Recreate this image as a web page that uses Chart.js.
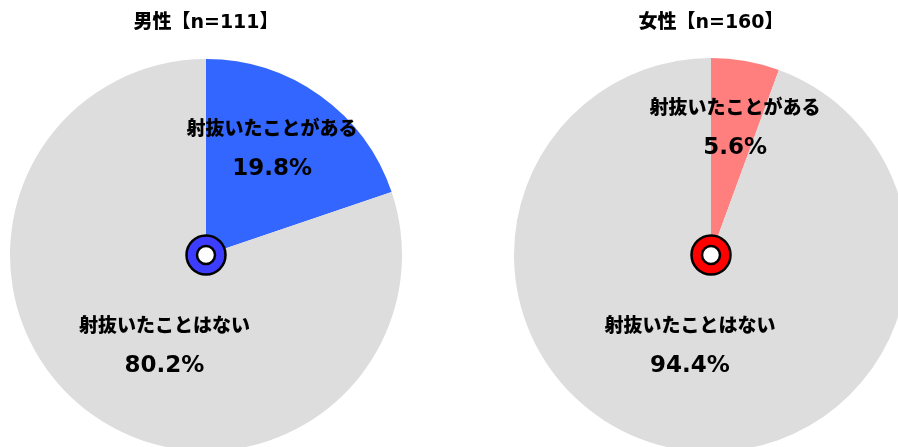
<!DOCTYPE html>
<html>
<head>
<meta charset="utf-8">
<script src="https://cdn.jsdelivr.net/npm/chart.js@4"></script>
<style>
    html, body { margin: 0; padding: 0; background: #fff; overflow: hidden; width: 898px; height: 447px; }
    canvas { position: absolute; }
    #maleChart { left: 10px; top: 0; }
    #femaleChart { left: 514px; top: 0; }
</style>
</head>
<body>
<canvas id="maleChart" width="392" height="451"></canvas>
<canvas id="femaleChart" width="394" height="452"></canvas>
<script>
const categories = ['射抜いたことがある', '射抜いたことはない'];
const maleValues = [19.8, 80.2];
const femaleValues = [5.6, 94.4];
const groupNames = ['男性', '女性'];
const groupN = [111, 160];

const FONT = "'DejaVu Sans', 'Noto Sans CJK JP', sans-serif";

// 中心のリングとラベルを描く
const pieDecor = {
    id: 'pieDecor',
    afterDatasetsDraw(chart, args, opts) {
        const ctx = chart.ctx;
        const meta = chart.getDatasetMeta(0);
        const arc0 = meta.data[0];
        const cx = arc0.x, cy = arc0.y, r = arc0.outerRadius;
        const values = chart.data.datasets[0].data;

        ctx.save();
        ctx.textAlign = 'center';
        ctx.textBaseline = 'middle';
        ctx.fillStyle = '#000';
        meta.data.forEach((arc, i) => {
            const off = opts.offsets[i];
            const x = cx + off[0] * r;
            const y = cy + off[1] * r;
            ctx.font = "900 19px " + FONT;
            ctx.fillText(chart.data.labels[i], x, y - 20);
            ctx.font = "bold 23px " + FONT;
            ctx.fillText(values[i].toFixed(1) + '%', x, y + 19);
        });

        // ring
        ctx.beginPath();
        ctx.arc(cx, cy, 19.5, 0, Math.PI * 2);
        ctx.arc(cx, cy, 9, 0, Math.PI * 2, true);
        ctx.fillStyle = opts.ringColor;
        ctx.fill();
        ctx.lineWidth = 2.5;
        ctx.strokeStyle = '#000';
        ctx.beginPath();
        ctx.arc(cx, cy, 19.5, 0, Math.PI * 2);
        ctx.stroke();
        ctx.beginPath();
        ctx.arc(cx, cy, 9, 0, Math.PI * 2);
        ctx.fillStyle = '#fff';
        ctx.fill();
        ctx.stroke();
        ctx.restore();
    }
};

function makePie(id, idx, values, colors, ringColor, offsets, padBottom) {
    return new Chart(document.getElementById(id), {
        type: 'pie',
        data: {
            labels: categories,
            datasets: [{
                data: values,
                backgroundColor: colors,
                borderWidth: 0,
            }],
        },
        options: {
            responsive: false,
            animation: false,
            devicePixelRatio: 1,
            layout: { padding: 0 },
            plugins: {
                title: {
                    display: true,
                    text: groupNames[idx] + '【n=' + groupN[idx] + '】',
                    color: '#000',
                    font: { family: FONT, size: 19, weight: '900' },
                    padding: { top: 11.6, bottom: padBottom },
                },
                legend: { display: false },
                tooltip: { enabled: false },
                pieDecor: { ringColor: ringColor, offsets: offsets },
            },
        },
        plugins: [pieDecor],
    });
}

makePie('maleChart', 0, maleValues, ['#3366FF', '#DDDDDD'], '#3D3DFF',
    [[0.337, -0.536], [-0.212, 0.47]], 24.6);
makePie('femaleChart', 1, femaleValues, ['#FF7F7F', '#DDDDDD'], '#FF0000',
    [[0.122, -0.64], [-0.107, 0.467]], 23.6);
</script>
</body>
</html>
